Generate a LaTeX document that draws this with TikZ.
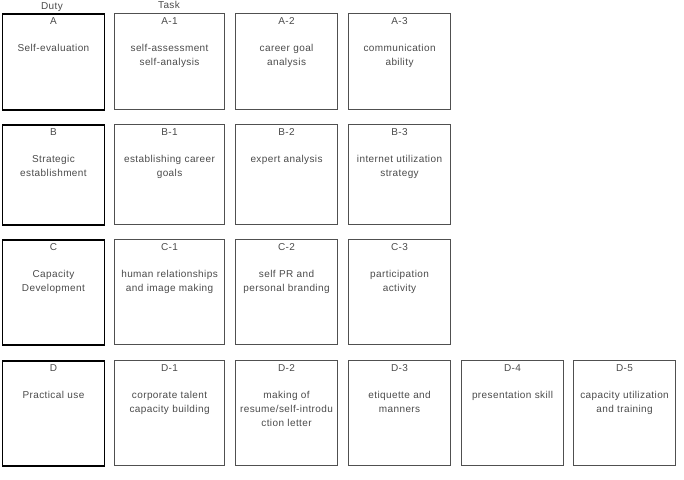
\documentclass[tikz,border=0pt]{standalone}
\usepackage{fontspec}
\setmainfont{Liberation Sans}[LetterSpace=4,WordSpace={1.6,1,1}]
\definecolor{txt}{HTML}{4A4A4A}
\definecolor{tline}{HTML}{505050}
\begin{document}
\begin{tikzpicture}[x=1pt,y=-1pt,
  dutybox/.style={draw=black,line width=1.9pt,inner sep=0pt,anchor=north west},
  taskbox/.style={draw=tline,line width=1.1pt,inner sep=0pt,anchor=north west},
  lab/.style={text=txt,font=\fontsize{10pt}{14pt}\selectfont,inner sep=0pt,anchor=base},
  ttl/.style={text=txt,font=\fontsize{10pt}{14pt}\selectfont,inner sep=0pt,anchor=north,align=center,text width=112pt},
  hdr/.style={text=txt,font=\fontsize{10pt}{12pt}\selectfont,inner sep=0pt,anchor=base}]
\useasboundingbox (0,0) rectangle (684,479);
% header
\node[hdr] (duty) at (52,9.5) {Duty};
\node[hdr] (task) at (169,9) {Task};
% Row A (top 13, h 96)
\node[dutybox,minimum width=102pt,minimum height=96pt] (A) at (1.5,13) {};
\node[taskbox,minimum width=110pt,minimum height=96pt] (A1) at (114,13) {};
\node[taskbox,minimum width=102pt,minimum height=96pt] (A2) at (235,13) {};
\node[taskbox,minimum width=102pt,minimum height=96pt] (A3) at (348,13) {};
% Row B (top 124, h 100)
\node[dutybox,minimum width=102pt,minimum height=100pt] (B) at (1.5,124) {};
\node[taskbox,minimum width=110pt,minimum height=100pt] (B1) at (114,124) {};
\node[taskbox,minimum width=102pt,minimum height=100pt] (B2) at (235,124) {};
\node[taskbox,minimum width=102pt,minimum height=100pt] (B3) at (348,124) {};
% Row C (top 239, h 105)
\node[dutybox,minimum width=102pt,minimum height=105pt] (C) at (1.5,239) {};
\node[taskbox,minimum width=110pt,minimum height=105pt] (C1) at (114,239) {};
\node[taskbox,minimum width=102pt,minimum height=105pt] (C2) at (235,239) {};
\node[taskbox,minimum width=102pt,minimum height=105pt] (C3) at (348,239) {};
% Row D (top 360, h 105)
\node[dutybox,minimum width=102pt,minimum height=105pt] (D) at (1.5,360) {};
\node[taskbox,minimum width=110pt,minimum height=105pt] (D1) at (114,360) {};
\node[taskbox,minimum width=102pt,minimum height=105pt] (D2) at (235,360) {};
\node[taskbox,minimum width=102pt,minimum height=105pt] (D3) at (348,360) {};
\node[taskbox,minimum width=102pt,minimum height=105pt] (D4) at (461,360) {};
\node[taskbox,minimum width=102pt,minimum height=105pt] (D5) at (573,360) {};
% labels and titles
\foreach \n/\l/\t in {
  A/A/{Self-evaluation},
  A1/A-1/{self-assessment\\self-analysis},
  A2/A-2/{career goal\\analysis},
  A3/A-3/{communication\\ability},
  B/B/{Strategic\\establishment},
  B1/B-1/{establishing career\\goals},
  B2/B-2/{expert analysis},
  B3/B-3/{internet utilization\\strategy},
  C/C/{Capacity\\Development},
  C1/C-1/{human relationships\\and image making},
  C2/C-2/{self PR and\\personal branding},
  C3/C-3/{participation\\activity},
  D/D/{Practical use},
  D1/D-1/{corporate talent\\capacity building},
  D2/D-2/{making of\\resume/self-introdu\\ction letter},
  D3/D-3/{etiquette and\\manners},
  D4/D-4/{presentation skill},
  D5/D-5/{capacity utilization\\and training}}{
  \node[lab] (\n-lab) at ([yshift=-11.5pt]\n.north) {\l};
  \node[ttl] (\n-ttl) at ([yshift=-29pt]\n.north) {\rule{0pt}{9pt}\t};
}
\end{tikzpicture}
\end{document}
